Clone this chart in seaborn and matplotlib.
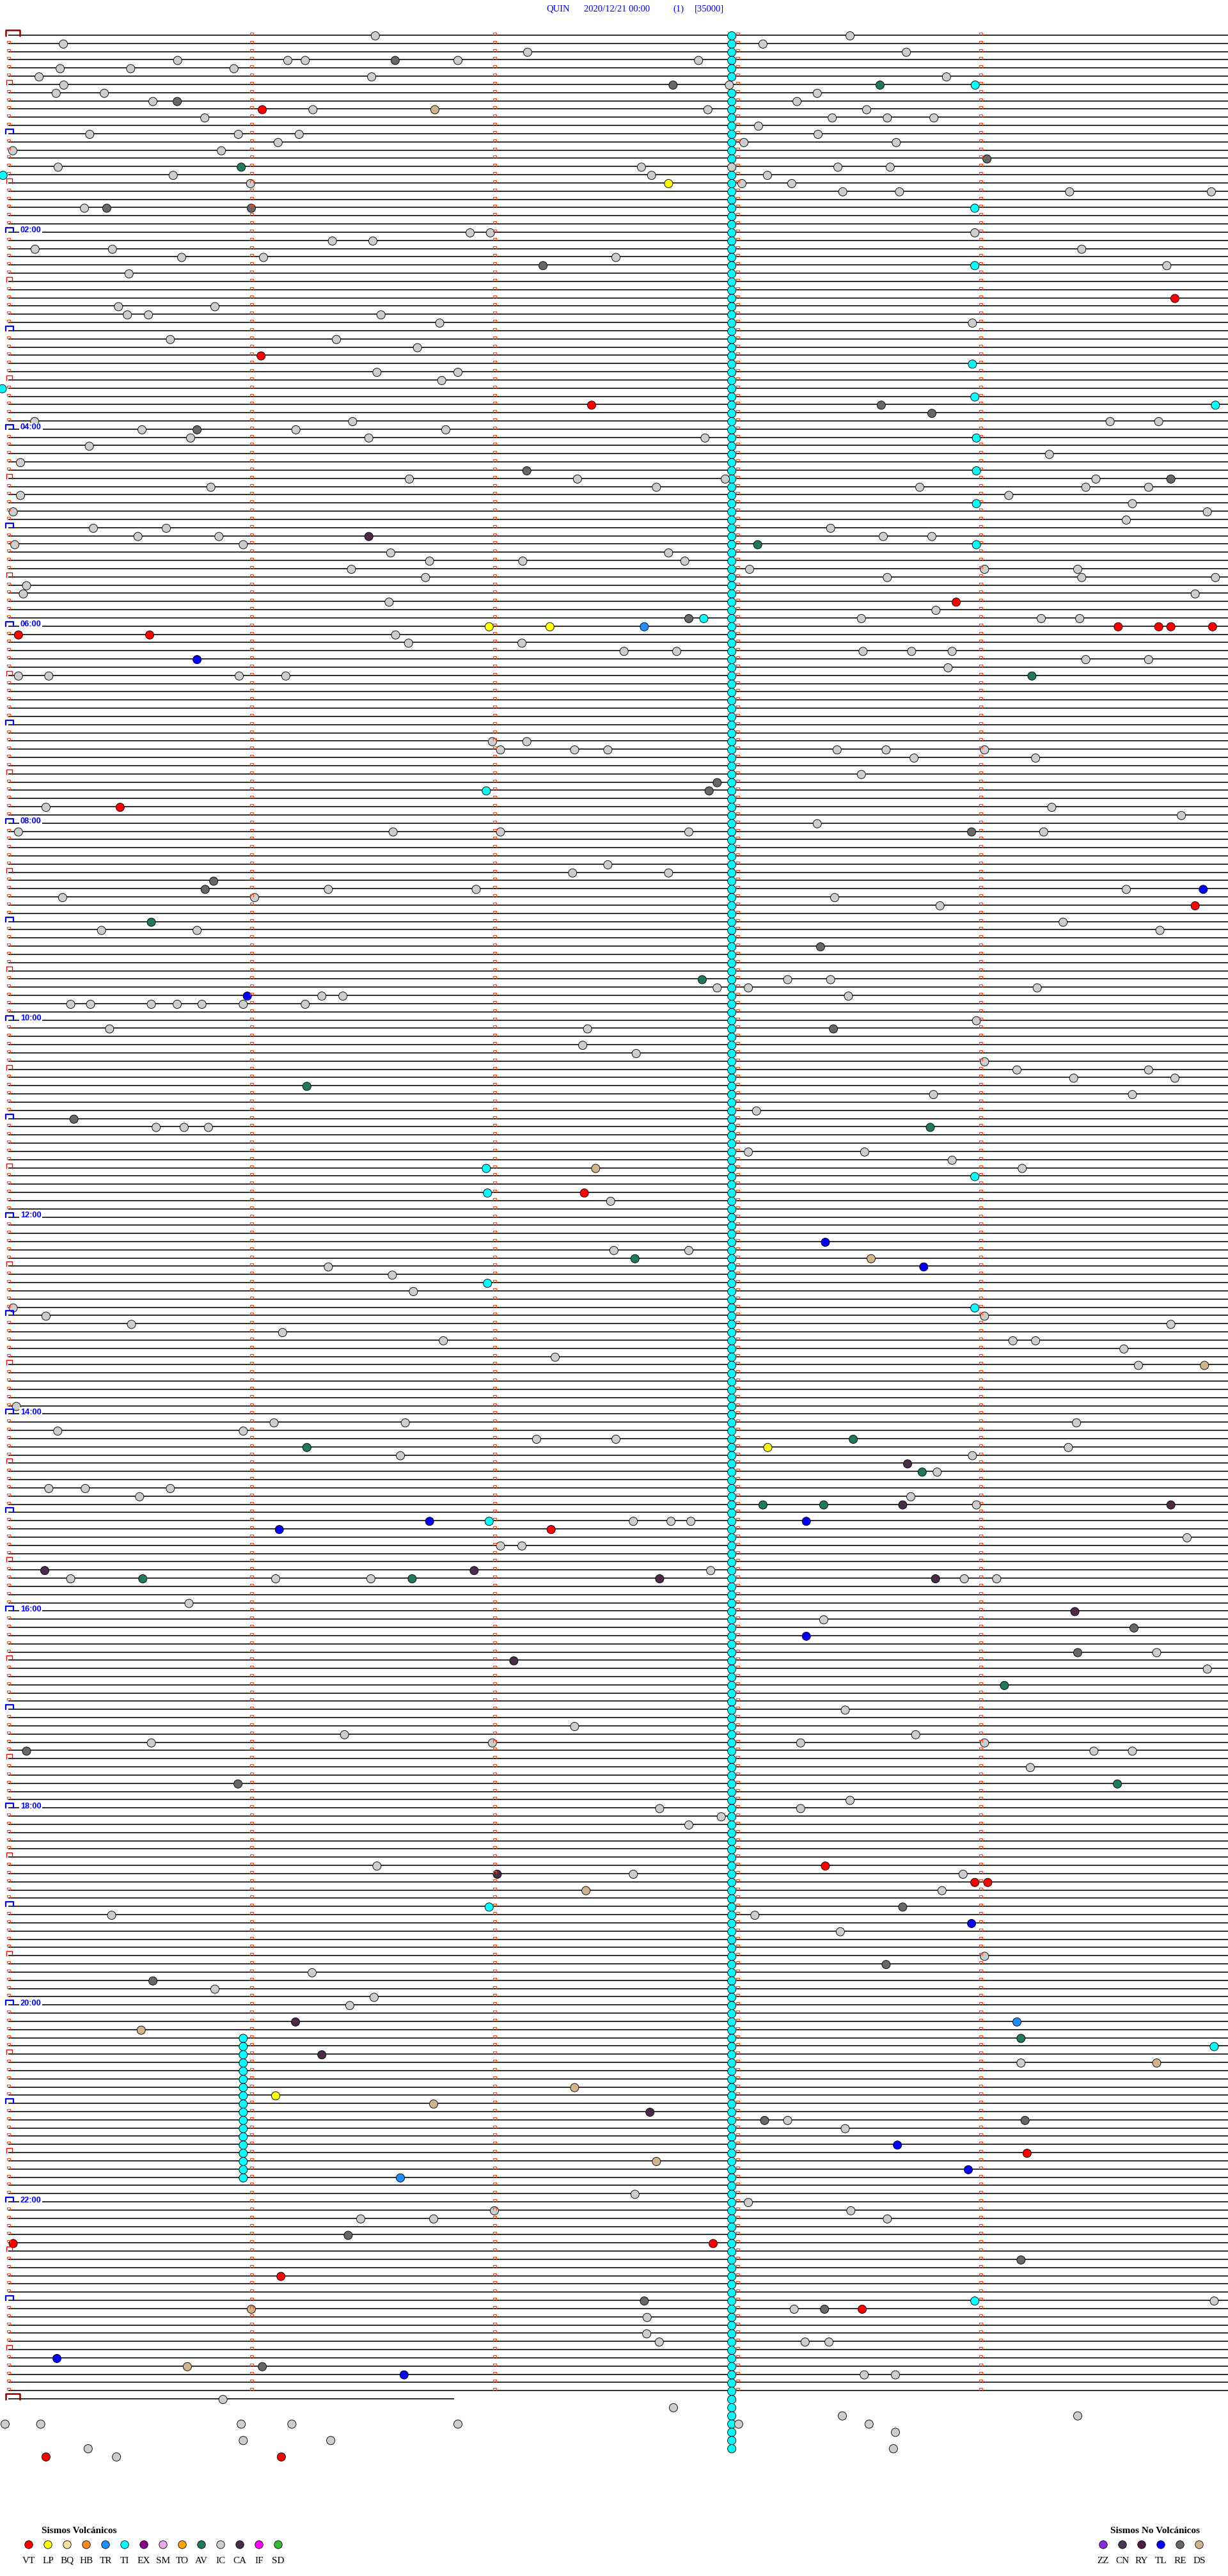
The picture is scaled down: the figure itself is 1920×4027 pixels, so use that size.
"""
Sismograma diario (helicorder) QUIN con eventos clasificados
"""
import numpy as np
import pandas as pd
import matplotlib
matplotlib.use('Agg')
import matplotlib.pyplot as plt
import seaborn as sns
from matplotlib.path import Path

# ---------------------------------------------------------------- datos
ESTACION = 'QUIN'
FECHA = '2020/12/21 00:00'
CANAL = '(1)'
ESCALA = '[35000]'

N_FILAS = 288            # lineas completas de 5 minutos
ULTIMA_FILA_SEG = 110    # la linea 288 (24:00) es parcial
MARCAS_SEG = [0, 60, 120, 180, 240]
HORAS = ['02:00', '04:00', '06:00', '08:00', '10:00', '12:00',
         '14:00', '16:00', '18:00', '20:00', '22:00']
FILAS_HORAS = [24, 48, 72, 96, 120, 144, 168, 192, 216, 240, 264]

VOLC_COD = ['VT', 'LP', 'BQ', 'HB', 'TR', 'TI', 'EX', 'SM', 'TO', 'AV', 'IC', 'CA', 'IF', 'SD']
VOLC_COL = ['#ff0000', '#ffff00', '#f2e3a0', '#ff8a1c', '#1e8fff', '#00ffff', '#8b008b',
            '#eaa8ea', '#ffa500', '#1f7a5c', '#cdcdcd', '#4a2c48', '#ff00ff', '#33bb33']
NOVOLC_COD = ['ZZ', 'CN', 'RY', 'TL', 'RE', 'DS']
NOVOLC_COL = ['#8a2be2', '#4b3555', '#4b2040', '#0000ff', '#676767', '#d2b48c']

# eventos (fila de 5 min, segundo dentro de la fila)
ti_columna_seg = 178.6
ti_columna_tramos = [(0, 5), (7, 15), (17, 294)]
ti_columna2_seg = 58
ti_columna2_tramos = [(244, 261)]
ti_sueltos = [(6, 238.7), (17, -1.3), (21, 238.6), (28, 238.6), (40, 238), (43, -1.5),
              (44, 238.6), (45, 298), (49, 239), (53, 239), (57, 239), (62, 239),
              (71, 171.7), (92, 118), (138, 118), (139, 238.6), (141, 118.3), (152, 118.3),
              (155, 238.6), (181, 118.7), (228, 118.7), (245, 297.7), (276, 238.6)]

ic = [(0, 90.6), (0, 207.8), (1, 13.6), (1, 186.3), (2, 128.2), (2, 221.7),
      (3, 41.8), (3, 69.0), (3, 73.3), (3, 111.0), (3, 170.4), (4, 12.8), (4, 30.2), (4, 55.7),
      (5, 7.6), (5, 89.7), (5, 231.6), (6, 13.7), (6, 178.0), (7, 11.8), (7, 23.7), (7, 199.7),
      (8, 35.7), (8, 194.7), (9, 75.2), (9, 172.7), (9, 211.9),
      (10, 48.5), (10, 203.4), (10, 217.0), (10, 228.5), (11, 185.2),
      (12, 20.1), (12, 56.8), (12, 71.8), (12, 199.9), (13, 66.6), (13, 181.6), (13, 219.2),
      (14, 1.1), (14, 52.6), (16, 12.3), (16, 156.3), (16, 178.6), (16, 204.8), (16, 217.7),
      (17, 40.7), (17, 158.8), (17, 187.4), (18, 59.8), (18, 181.1), (18, 193.4),
      (19, 206), (19, 220), (19, 262), (19, 297), (21, 18.8), (24, 114), (24, 119), (24, 238.6),
      (25, 80), (25, 90), (26, 6.6), (26, 25.7), (26, 265), (27, 42.8), (27, 63), (27, 150),
      (28, 286), (29, 29.8), (33, 27.2), (33, 51), (34, 29.4), (34, 34.6), (34, 92),
      (35, 106.5), (35, 238), (37, 81), (37, 40), (38, 101), (41, 111), (41, 91), (42, 107),
      (47, 6.5), (47, 85), (47, 272), (47, 284), (48, 33), (48, 71), (48, 108),
      (49, 45), (49, 89), (49, 172), (50, 20), (51, 257), (52, 3),
      (54, 99), (54, 140.5), (54, 177), (54, 268.5), (55, 50), (55, 160), (55, 266), (55, 281.5),
      (55, 225), (56, 3), (56, 247), (57, 277.5), (58, 1.2), (58, 296), (59, 276),
      (60, 39), (60, 21), (60, 203), (61, 32), (61, 52), (61, 216), (61, 228), (62, 58), (62, 1.6),
      (63, 94.4), (63, 163), (64, 104), (64, 127), (64, 167), (65, 84.7), (65, 183), (65, 241),
      (65, 264), (66, 103), (66, 217), (66, 265), (66, 298), (67, 4.5), (68, 3.7), (68, 293),
      (69, 94), (70, 229), (71, 210.6), (71, 255), (71, 264.5), (73, 95.6), (74, 98.8),
      (74, 126.8), (75, 152), (75, 165), (75, 211), (75, 223), (75, 233), (76, 266), (76, 281.5),
      (77, 232), (78, 10), (78, 2.5), (78, 68.5), (78, 57), (86, 119.5), (86, 128),
      (87, 139.8), (87, 121.5), (87, 148), (87, 204.6), (87, 216.7), (87, 241), (88, 223.6),
      (88, 253.6), (90, 210.6), (94, 9.3), (94, 257.6), (95, 289.6), (96, 199.7),
      (97, 2.5), (97, 95), (97, 121.5), (97, 168), (97, 255.6), (101, 148), (102, 139.3),
      (102, 163), (104, 79), (104, 115.5), (104, 276), (105, 13.4), (105, 60.8), (105, 204),
      (106, 230), (108, 260.4), (109, 23), (109, 46.6), (109, 284.3), (115, 192.4), (115, 203),
      (116, 175), (116, 182.7), (116, 254), (117, 82.6), (117, 77.4), (117, 207.4),
      (118, 58), (118, 35.3), (118, 41.7), (118, 47.8), (118, 15.4), (118, 20.3), (118, 73.3),
      (120, 239), (121, 25), (121, 143), (123, 141.8), (124, 155), (125, 241), (126, 249),
      (126, 281.5), (127, 263), (127, 288), (129, 277.5), (129, 228.4), (131, 184.7),
      (133, 36.5), (133, 43.4), (133, 49.4), (136, 182.7), (136, 211.4), (137, 233), (138, 250.3),
      (142, 148.7), (148, 149.5), (148, 168), (150, 79), (151, 94.8), (153, 100), (155, 1.2),
      (156, 9.3), (156, 241), (157, 30.4), (157, 287), (158, 67.7), (159, 107.4), (159, 248),
      (159, 253.6), (160, 275.4), (161, 135), (162, 279), (167, 2), (169, 98), (169, 65.6),
      (169, 263.7), (170, 12.2), (170, 58), (171, 130.4), (171, 150), (172, 261.7), (173, 96.8),
      (173, 238), (175, 229.3), (177, 19), (177, 10), (177, 40), (178, 32.4), (178, 222.8),
      (179, 239), (181, 154.3), (181, 163.6), (181, 168.5), (183, 291), (184, 121.5),
      (184, 126.8), (187, 173.4), (188, 236), (188, 244), (188, 89.5), (188, 66), (188, 15.4),
      (191, 44.6), (193, 201.3), (197, 283.5), (199, 296), (204, 206.6), (206, 139.8),
      (207, 83), (207, 224), (208, 35.3), (208, 119.5), (208, 195.6), (208, 241), (209, 268),
      (209, 277.5), (211, 252.3), (215, 207.8), (216, 160.8), (216, 195.6), (217, 176),
      (218, 168), (223, 91), (224, 235.7), (224, 154.3), (226, 230.5), (229, 25.5), (229, 184.3),
      (231, 205.4), (234, 241), (236, 75), (238, 51), (239, 90.3), (240, 84.3), (247, 250),
      (254, 192.4), (255, 206.6), (263, 154.7), (264, 182.7), (265, 120), (265, 208), (266, 87),
      (266, 105), (266, 217), (276, 297.7), (277, 194), (278, 157.7), (280, 157.6), (281, 160.7),
      (281, 196.7), (281, 202.6), (285, 211.3), (285, 219), (288, 53), (289, 164.2),
      (290, 205.9), (290, 264), (291, -0.8), (291, 8), (291, 70), (291, 180.3), (291, 212.5),
      (291, 57.5), (291, 111), (292, 219), (293, 58), (293, 79.6), (294, 19.7), (294, 218.5),
      (295, 26.7)]

re_ = [(3, 95.5), (6, 164.1), (8, 41.7), (15, 241.6), (21, 24.3), (21, 60), (28, 132), (45, 215.5),
       (46, 228), (48, 46.6), (53, 128), (54, 287), (71, 168), (91, 175), (92, 173), (97, 237.8),
       (103, 50.7), (104, 48.6), (111, 200.5), (121, 203.7), (132, 16.2), (194, 277.9), (197, 264),
       (209, 4.5), (213, 56.7), (228, 220.8), (235, 216.7), (237, 35.7), (254, 186.7), (254, 251),
       (268, 83.9), (271, 250), (276, 157), (277, 201.5), (284, 62.7)]
ca = [(61, 89), (174, 222), (179, 287), (179, 220.8), (187, 9), (187, 115), (188, 160.8),
      (188, 228.9), (198, 124.8), (192, 263.3), (224, 120.7), (242, 70.9), (246, 77.4), (253, 158.4)]
av = [(6, 215.2), (16, 57.5), (62, 185), (78, 252.7), (108, 35.3), (115, 171.3), (128, 73.7),
      (133, 227.6), (149, 154.7), (172, 73.7), (171, 208.6), (175, 225.6), (179, 186.3),
      (179, 201.3), (188, 33.2), (188, 99.7), (201, 245.9), (213, 273.8), (244, 250)]
vt = [(9, 62.7), (32, 288), (39, 62.4), (45, 144), (69, 234), (72, 274), (72, 284), (72, 287),
      (72, 297.3), (73, 2.5), (73, 34.9), (94, 27.6), (106, 293), (141, 142.2), (182, 134),
      (223, 201.7), (225, 238.6), (225, 241.8), (258, 251.5), (269, 174), (269, 1.2), (273, 67.3),
      (277, 210.8), (295, 9.3), (295, 67.4)]
lp = [(18, 163), (72, 118.7), (72, 133.7), (172, 187.5), (251, 66)]
tr = [(72, 157), (242, 249), (261, 96.8)]
tl = [(76, 46.6), (104, 295), (117, 59), (147, 201.7), (150, 226), (182, 66.9), (181, 104),
      (181, 197), (195, 197), (230, 237.8), (257, 219.5), (260, 237), (283, 12), (285, 97.7)]
ds = [(9, 105.3), (138, 145), (149, 213), (162, 295.3), (226, 142.6), (243, 32.8), (252, 105),
      (250, 139.8), (259, 160), (247, 283.5), (277, 60), (284, 44.2)]

# ---------------------------------------------------------------- tabla de eventos
filas_ti = [f for a, b in ti_columna_tramos for f in range(a, b + 1)]
filas_ti2 = [f for a, b in ti_columna2_tramos for f in range(a, b + 1)]
ti = ([(f, ti_columna_seg) for f in filas_ti] + [(f, ti_columna2_seg) for f in filas_ti2]
      + ti_sueltos)

grupos = {'TI': ti, 'IC': ic, 'RE': re_, 'CA': ca, 'AV': av, 'VT': vt,
          'LP': lp, 'TR': tr, 'TL': tl, 'DS': ds}
eventos = pd.DataFrame([(f, s, t) for t, lista in grupos.items() for f, s in lista],
                       columns=['fila', 'seg', 'tipo'])
paleta = dict(zip(VOLC_COD + NOVOLC_COD, VOLC_COL + NOVOLC_COL))

# ---------------------------------------------------------------- geometria (px)
W, H = 1920, 4027
X0, PX_SEG = 13, 1900 / 300
Y0, PX_FILA = 55, 12.83

sns.set_theme(style='white')
plt.rcParams['font.family'] = ['Liberation Serif', 'DejaVu Serif']

fig = plt.figure(figsize=(W / 100, H / 100), dpi=100)
ax = fig.add_axes([0, 0, 1, 1])
ax.set_xlim(-X0 / PX_SEG, (W - X0) / PX_SEG)
ax.set_ylim((H - Y0) / PX_FILA, -Y0 / PX_FILA)
ax.axis('off')


def corchete(x_izq, ancho, alto, y_base=0):
    """marcador en forma de corchete abierto hacia abajo (px)"""
    verts = [(x_izq, y_base), (x_izq, alto), (x_izq + ancho, alto), (x_izq + ancho, y_base)]
    path = Path(verts, [Path.MOVETO, Path.LINETO, Path.LINETO, Path.LINETO])
    m = 2 * np.max(np.abs(verts)) * 0.72
    return path, m


# trazas
filas = np.arange(N_FILAS)
ax.hlines(filas, 0, 301.5, colors='black', linewidth=1.15, zorder=1)
ax.hlines([N_FILAS], 0, ULTIMA_FILA_SEG, colors='black', linewidth=1.15, zorder=1)

# marcas de minuto
p_min, m_min = corchete(-2.5, 5, 4.5)
xs = [s for f in filas for s in MARCAS_SEG if not (s == 0 and f % 6 == 0)]
ys = [f for f in filas for s in MARCAS_SEG if not (s == 0 and f % 6 == 0)]
ax.plot(xs, ys, ls='none', marker=p_min, markersize=m_min, mfc='none',
        mec='#ff4a14', mew=0.9, zorder=5)

# media hora
p_med, m_med = corchete(-3, 9, 7, -1)
f_med = [f for f in filas if f % 12 == 6]
ax.plot([0] * len(f_med), f_med, ls='none', marker=p_med, markersize=m_med, mfc='none',
        mec='#ff0000', mew=1.0, zorder=5)

# horas
p_hor, m_hor = corchete(-4, 12, 7, -1)
f_hor = [f for f in filas if f % 12 == 0 and f != 0]
ax.plot([0] * len(f_hor), f_hor, ls='none', marker=p_hor, markersize=m_hor, mfc='none',
        mec='#0000ff', mew=1.6, zorder=5)

# inicio / fin del dia
p_dia, m_dia = corchete(-4, 22, 8, -2)
ax.plot([0, 0], [0, N_FILAS], ls='none', marker=p_dia, markersize=m_dia, mfc='none',
        mec='#8b0000', mew=1.8, zorder=5)

# etiquetas de hora
for etiqueta, f in zip(HORAS, FILAS_HORAS):
    ax.text(3.0, f - 0.2, etiqueta, ha='left', va='center', color='#0000ff',
            fontsize=9.2, fontweight='bold', family=['Liberation Sans', 'DejaVu Sans'],
            bbox=dict(facecolor='white', edgecolor='none', pad=1.2), zorder=4)

# eventos
eventos['y'] = eventos['fila'] + 0.08
orden = ['TI'] + [t for t in grupos if t != 'TI']
for t in orden:
    sub = eventos[eventos['tipo'] == t]
    sns.scatterplot(data=sub, x='seg', y='y', hue='tipo', palette=paleta, s=88,
                    edgecolor='black', linewidth=0.65, legend=False, ax=ax, zorder=3)

ax.set_xlabel('')
ax.set_ylabel('')

# titulo
for texto, x in zip([ESTACION, FECHA, CANAL, ESCALA], [854, 913, 1052, 1086]):
    fig.text(x / W, 1 - 14 / H, texto, color='#0000ff', fontsize=10.5, va='center')

# leyenda
leg = fig.add_axes([0, 0, 1, 1], facecolor='none')
leg.set_xlim(0, W)
leg.set_ylim(H, 0)
leg.axis('off')

ley = pd.DataFrame({
    'cod': VOLC_COD + NOVOLC_COD,
    'x': [45 + 30 * i for i in range(len(VOLC_COD))] + [1725 + 30 * i for i in range(len(NOVOLC_COD))],
})
ley['y'] = 3978
sns.scatterplot(data=ley, x='x', y='y', hue='cod', palette=paleta, s=80, edgecolor='black',
                linewidth=0.6, legend=False, ax=leg)
for _, r in ley.iterrows():
    leg.text(r['x'], 4003, r['cod'], ha='center', va='center', fontsize=11, color='black')
leg.text(124, 3956, 'Sismos Volcánicos', ha='center', va='center', fontsize=11,
         fontweight='bold', color='black')
leg.text(1806, 3956, 'Sismos No Volcánicos', ha='center', va='center', fontsize=11,
         fontweight='bold', color='black')
leg.set_xlabel('')
leg.set_ylabel('')

fig.savefig('out.png', dpi=100)
